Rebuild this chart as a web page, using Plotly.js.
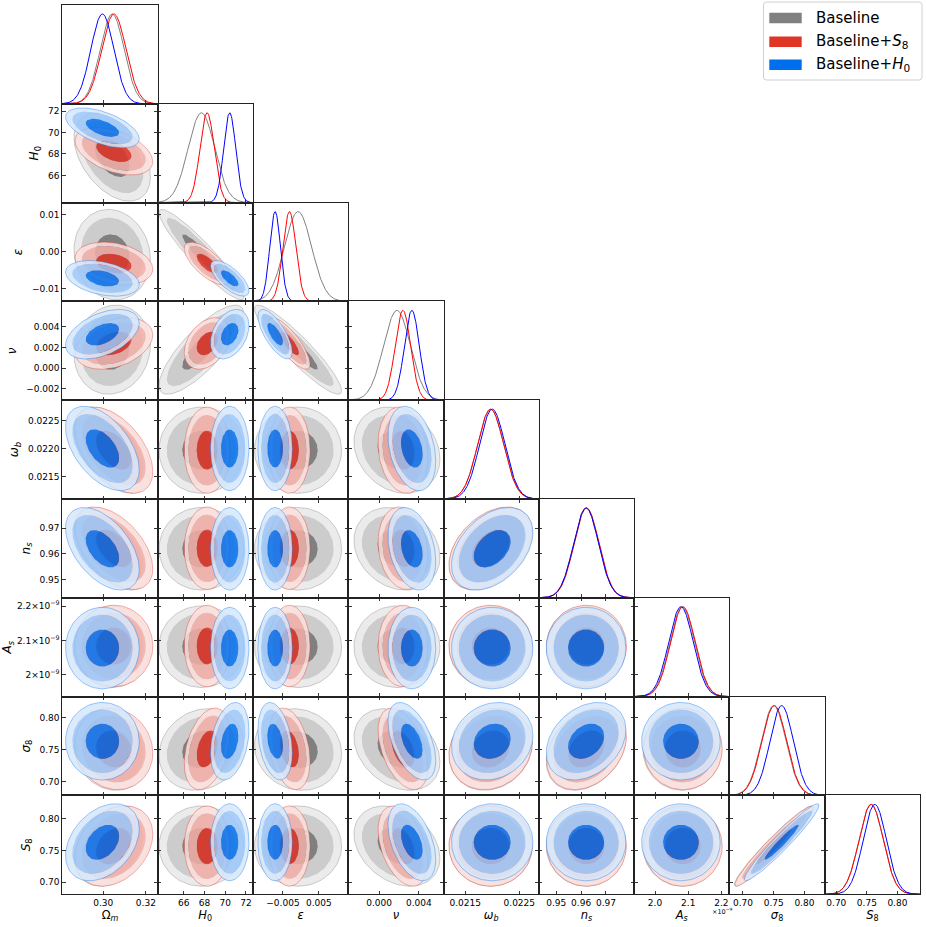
<!DOCTYPE html>
<html><head><meta charset="utf-8">
<script src="https://cdn.plot.ly/plotly-3.0.1.min.js"></script>
<style>html,body{margin:0;padding:0;background:#fff}</style>
</head><body>
<div id="plot" style="width:926px;height:927px"></div>
<script>
// ---------------- data ----------------
const paramNames  = ['Omega_m','H0','epsilon','nu','omega_b','n_s','A_s','sigma8','S8'];
const paramLabels = ['Ω<sub><i>m</i></sub>','<i>H</i><sub>0</sub>','<i>ε</i>','<i>ν</i>','<i>ω</i><sub><i>b</i></sub>','<i>n</i><sub><i>s</i></sub>','<i>A</i><sub><i>s</i></sub>','<i>σ</i><sub>8</sub>','<i>S</i><sub>8</sub>'];
const seriesNames  = ['Baseline','Baseline+S8','Baseline+H0'];
const seriesLabels = ['Baseline','Baseline+<i>S</i><sub>8</sub>','Baseline+<i>H</i><sub>0</sub>'];

// A_s in units of 1e-9
const meanBaseline  = [0.3042, 67.7, -0.0008, 0.0018, 0.02197, 0.9620, 2.082, 0.750, 0.757];
const sigmaBaseline = [0.0056, 1.28, 0.0038, 0.00135, 0.00024, 0.0050, 0.037, 0.020, 0.0198];
const corrBaseline  = [[],[-0.45],[-0.10,-0.93],[0.10,0.80,-0.92],[-0.50,0,0,-0.20],[-0.50,0,0,-0.20,0.40],[0,0,0,0,0,0],[-0.10,0.15,-0.10,-0.30,0.15,0.30,0],[0.30,0,0,-0.30,0,0,0,0.96]];

const meanS8  = [0.3050, 68.25, -0.0032, 0.0024, 0.02197, 0.9622, 2.084, 0.751, 0.757];
const sigmaS8 = [0.0057, 0.69, 0.0018, 0.00078, 0.00024, 0.0050, 0.037, 0.020, 0.0198];
const corrS8  = [[],[-0.44],[-0.26,-0.70],[0.33,0.35,-0.80],[-0.50,0,0,-0.15],[-0.50,0,0,-0.15,0.40],[0,0,0,0,0,0],[-0.10,0.35,-0.30,-0.45,0.15,0.30,0],[0.30,0,0,-0.40,0,0,0,0.96]];

const meanH0  = [0.2996, 70.43, -0.0072, 0.0033, 0.02200, 0.9620, 2.078, 0.763, 0.763];
const sigmaH0 = [0.0054, 0.58, 0.0015, 0.00075, 0.000235, 0.0050, 0.037, 0.019, 0.019];
const corrH0  = [[],[-0.55],[-0.35,-0.70],[0.45,0.35,-0.72],[-0.50,0,0,-0.30],[-0.50,0,0,-0.30,0.40],[0,0,0,0,0,0],[0,0.30,-0.30,-0.50,0.15,0.30,0],[0.35,0,0,-0.45,0,0,0,0.96]];

const xTickVals = [[0.30,0.32],[66,68,70,72],[-0.005,0.005],[0.000,0.004],[0.0215,0.0225],[0.95,0.96,0.97],[2.0,2.1,2.2],[0.70,0.75,0.80],[0.70,0.75,0.80]];
const xTickText = [['0.30','0.32'],['66','68','70','72'],['−0.005','0.005'],['0.000','0.004'],['0.0215','0.0225'],['0.95','0.96','0.97'],['2.0','2.1','2.2'],['0.70','0.75','0.80'],['0.70','0.75','0.80']];
const yTickVals = [[],[66,68,70,72],[-0.01,0,0.01],[-0.002,0,0.002,0.004],[0.0215,0.0220,0.0225],[0.95,0.96,0.97],[2.0,2.1,2.2],[0.70,0.75,0.80],[0.70,0.75,0.80]];
const yTickText = [[],['66','68','70','72'],['−0.01','0.00','0.01'],['−0.002','0.000','0.002','0.004'],['0.0215','0.0220','0.0225'],['0.95','0.96','0.97'],['2×10<sup>−9</sup>','2.1×10<sup>−9</sup>','2.2×10<sup>−9</sup>'],['0.70','0.75','0.80'],['0.70','0.75','0.80']];

// ---------------- settings / styles ----------------
const axisRange = [[0.2808,0.3255],[63.47,72.67],[-0.0134,0.0132],[-0.0031,0.00648],[0.02110,0.02286],[0.9430,0.9813],[1.937,2.224],[0.678,0.833],[0.681,0.837]];
const contourRadii = [3.2, 2.62, 1.45]; // outer, middle, inner (Mahalanobis)
const seriesColor = ['#808080','#E03424','#006FED'];
const lineColor1D = ['#808080','#ff0000','#0000ff'];
const seriesAlpha = [1, 0.85, 0.85];
const FONT = 'DejaVu Sans, Verdana, sans-serif';
const W = 926, H = 927;
const gridX0 = 62.3, cellW = 95.3, gridY0 = 5, cellH = 98.8;
const N = 9;

const means  = [meanBaseline, meanS8, meanH0];
const sigmas = [sigmaBaseline, sigmaS8, sigmaH0];
const corrs  = [corrBaseline, corrS8, corrH0];

function hexRgb(h){return [parseInt(h.slice(1,3),16),parseInt(h.slice(3,5),16),parseInt(h.slice(5,7),16)];}
function pale(rgb){return rgb.map(c=>c*0.4+255*0.6);}
function rgba(rgb,a){return 'rgba('+rgb.map(v=>Math.round(v)).join(',')+','+a+')';}
const shades = seriesColor.map(h=>{const c=hexRgb(h);const c2=pale(c);const c3=pale(c2);return [c3,c2,c];});

function ellipsePts(mx,my,sx,sy,rho,r,n,rev){
  const xs=[],ys=[];const q=Math.sqrt(1-rho*rho);
  for(let k=0;k<=n;k++){
    const t=(rev?(n-k):k)/n*2*Math.PI;
    xs.push(mx+r*sx*Math.cos(t));
    ys.push(my+r*sy*(rho*Math.cos(t)+q*Math.sin(t)));
  }
  return [xs,ys];
}
function axName(k){return k===1?'':String(k);}

const traces=[];
const layout={width:W,height:H,margin:{l:0,r:0,t:0,b:0},paper_bgcolor:'#fff',plot_bgcolor:'#fff',showlegend:false,
  font:{family:FONT,color:'#000',size:10},shapes:[],annotations:[]};

function xDomain(j){return [(gridX0+cellW*j)/W,(gridX0+cellW*(j+1))/W];}
function yDomain(i){return [1-(gridY0+cellH*(i+1))/H,1-(gridY0+cellH*i)/H];}

const tickStyle={ticks:'inside',ticklen:3.5,tickwidth:0.9,tickcolor:'#222',showline:true,linecolor:'#222',linewidth:1,showgrid:false,zeroline:false,tickfont:{size:9,family:FONT,color:'#000'}};

let k=0;
const diagAxes=[];
for(let i=0;i<N;i++){
  for(let j=0;j<=i;j++){
    k++;
    const xa='x'+axName(k), ya='y'+axName(k);
    const xaxis=Object.assign({},tickStyle,{domain:xDomain(j),anchor:ya,range:axisRange[j],tickvals:xTickVals[j],ticktext:xTickText[j],
      showticklabels:i===N-1,mirror:(j<i)?'allticks':true});
    if(i===N-1) xaxis.title={text:paramLabels[j],font:{size:11.5,family:FONT,color:'#000'},standoff:3};
    layout['xaxis'+axName(k)]=xaxis;
    if(j<i){
      const yaxis=Object.assign({},tickStyle,{domain:yDomain(i),anchor:xa,range:axisRange[i],tickvals:yTickVals[i],ticktext:yTickText[i],
        showticklabels:j===0,mirror:'allticks'});
      if(j===0) yaxis.title={text:paramLabels[i],font:{size:12,family:FONT,color:'#000'},standoff:6};
      layout['yaxis'+axName(k)]=yaxis;
      // 2D contours
      for(let s=0;s<3;s++){
        const m=means[s],sg=sigmas[s],rho=corrs[s][i][j];
        const a=seriesAlpha[s];
        for(let L=0;L<3;L++){
          const outer=ellipsePts(m[j],m[i],sg[j],sg[i],rho,contourRadii[L],90,false);
          let xs=outer[0],ys=outer[1];
          if(L<2){const inner=ellipsePts(m[j],m[i],sg[j],sg[i],rho,contourRadii[L+1],90,true);xs=xs.concat(inner[0]);ys=ys.concat(inner[1]);}
          traces.push({type:'scatter',mode:'lines',x:xs,y:ys,xaxis:xa,yaxis:ya,fill:'toself',fillcolor:rgba(shades[s][L],a),
            line:{width:0,color:rgba(shades[s][L],0)},hoverinfo:'skip',showlegend:false});
        }
        const ol=ellipsePts(m[j],m[i],sg[j],sg[i],rho,contourRadii[0],90,false);
        traces.push({type:'scatter',mode:'lines',x:ol[0],y:ol[1],xaxis:xa,yaxis:ya,line:{width:0.7,color:rgba(hexRgb(seriesColor[s]),0.55)},hoverinfo:'skip',showlegend:false});
      }
    } else {
      layout['yaxis'+axName(k)]={domain:yDomain(i),anchor:xa,range:[0,1.1],showticklabels:false,ticks:'',showline:true,linecolor:'#222',linewidth:1,mirror:true,showgrid:false,zeroline:false};
      const rg=axisRange[j];
      for(let s=0;s<3;s++){
        const xs=[],ys=[];
        for(let p=0;p<=240;p++){const x=rg[0]+(rg[1]-rg[0])*p/240;xs.push(x);ys.push(Math.exp(-0.5*Math.pow((x-means[s][j])/sigmas[s][j],2)));}
        traces.push({type:'scatter',mode:'lines',x:xs,y:ys,xaxis:xa,yaxis:ya,line:{width:1,color:lineColor1D[s]},hoverinfo:'skip',showlegend:false});
      }
      if(i>0) diagAxes.push({i,k});
    }
  }
}
// left-side ticks on diagonal panels (row parameter ticks)
let extra=k;
diagAxes.forEach(d=>{
  extra++;
  const ya='y'+axName(extra);
  layout['yaxis'+axName(extra)]={overlaying:'y'+axName(d.k),anchor:'x'+axName(d.k),side:'left',range:axisRange[d.i],tickvals:yTickVals[d.i],
    ticks:'inside',ticklen:3.5,tickwidth:0.9,tickcolor:'#222',showticklabels:false,showline:false,showgrid:false,zeroline:false};
  traces.push({type:'scatter',mode:'lines',x:[means[0][d.i]],y:[means[0][d.i]],xaxis:'x'+axName(d.k),yaxis:ya,hoverinfo:'skip',showlegend:false,line:{width:0}});
});

// exponent label for A_s x-axis
layout.annotations.push({xref:'paper',yref:'paper',x:722/W,y:1-911/H,text:'×10<sup>−9</sup>',showarrow:false,font:{size:6.5,family:FONT,color:'#000'},xanchor:'center',yanchor:'middle'});

// legend (custom)
function px(x){return x/W;} function py(y){return 1-y/H;}
const lx0=763.5,lx1=922,ly0=2,ly1=80,rr=3;
layout.shapes.push({type:'path',xref:'paper',yref:'paper',
  path:`M${px(lx0+rr)},${py(ly0)} L${px(lx1-rr)},${py(ly0)} Q${px(lx1)},${py(ly0)} ${px(lx1)},${py(ly0+rr)} L${px(lx1)},${py(ly1-rr)} Q${px(lx1)},${py(ly1)} ${px(lx1-rr)},${py(ly1)} L${px(lx0+rr)},${py(ly1)} Q${px(lx0)},${py(ly1)} ${px(lx0)},${py(ly1-rr)} L${px(lx0)},${py(ly0+rr)} Q${px(lx0)},${py(ly0)} ${px(lx0+rr)},${py(ly0)} Z`,
  line:{color:'#d0d0d0',width:1},fillcolor:'rgba(255,255,255,0.8)'});
const legendRows=[18,41.7,64.7];
seriesNames.forEach((nm,s)=>{
  const cy=legendRows[s];
  layout.shapes.push({type:'rect',xref:'paper',yref:'paper',x0:px(769.3),x1:px(801.7),y0:py(cy-5.3),y1:py(cy+5.3),fillcolor:seriesColor[s],line:{width:0}});
  layout.annotations.push({xref:'paper',yref:'paper',x:px(814),y:py(cy),text:seriesLabels[s],showarrow:false,xanchor:'left',yanchor:'middle',font:{size:15,family:FONT,color:'#000'}});
});

Plotly.newPlot('plot',traces,layout,{staticPlot:true,displayModeBar:false});
</script>
</body></html>
